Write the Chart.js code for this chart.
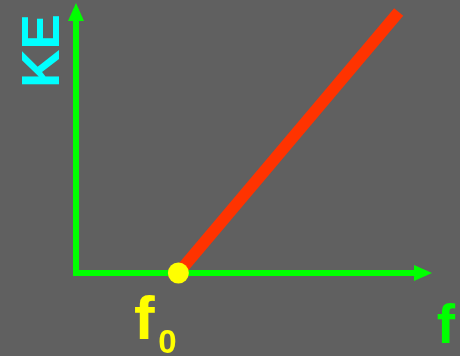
<!DOCTYPE html>
<html>
<head>
<meta charset="utf-8">
<script src="https://cdn.jsdelivr.net/npm/chart.js@4.4.1/dist/chart.umd.min.js"></script>
<style>
  html, body { margin: 0; padding: 0; background: #606060; }
</style>
</head>
<body>
<canvas id="keChart" width="460" height="356"></canvas>
<script>
// KE vs frequency (photoelectric effect), values in arbitrary units
const thresholdFreq = 2.95;            // f0
const keLineFreq = [thresholdFreq, 9.3];
const keLineEnergy = [0, 10];
const freqAxis = [0, 10];
const energyAxis = [0, 10];
const axisTitles = ['f', 'KE'];
const thresholdLabel = ['f', '0'];

const GREEN = '#00ff00';
const RED = '#ff3300';
const YELLOW = '#ffff00';
const CYAN = '#00ffff';
const FONT = '"Liberation Sans", Arial, sans-serif';

// arrow head used as point style at the end of each axis
const arrowHead = document.createElement('canvas');
arrowHead.width = 16;
arrowHead.height = 18;
const actx = arrowHead.getContext('2d');
actx.fillStyle = GREEN;
actx.beginPath();
actx.moveTo(8, 0);
actx.lineTo(16, 18);
actx.lineTo(0, 18);
actx.closePath();
actx.fill();

const toPoints = (xs, ys) => xs.map((v, i) => ({ x: v, y: ys[i] }));

const labelPlugin = {
    id: 'keLabels',
    afterDatasetsDraw(chart) {
        const { ctx, scales } = chart;
        const x0 = scales.x.getPixelForValue(0);
        const y0 = scales.y.getPixelForValue(0);
        const xf0 = scales.x.getPixelForValue(thresholdFreq);
        const xEnd = scales.x.getPixelForValue(freqAxis[1]);
        ctx.save();
        ctx.textAlign = 'center';
        ctx.textBaseline = 'alphabetic';

        // y title, rotated
        ctx.save();
        ctx.fillStyle = CYAN;
        ctx.font = 'bold 53px ' + FONT;
        ctx.translate(x0 - 17, 51);
        ctx.rotate(-Math.PI / 2);
        ctx.fillText(axisTitles[1], 0, 0);
        ctx.restore();

        // x title
        ctx.fillStyle = GREEN;
        ctx.font = 'bold 55px ' + FONT;
        ctx.fillText(axisTitles[0], xEnd + 23, y0 + 70);

        // f0 marker label
        ctx.fillStyle = YELLOW;
        ctx.font = 'bold 62px ' + FONT;
        ctx.fillText(thresholdLabel[0], xf0 - 34, y0 + 66);
        ctx.font = 'bold 33px ' + FONT;
        ctx.fillText(thresholdLabel[1], xf0 - 11, y0 + 80);
        ctx.restore();
    },
};

new Chart(document.getElementById('keChart'), {
    type: 'scatter',
    data: {
        datasets: [
            {
                label: 'f0',
                data: toPoints([thresholdFreq], [0]),
                pointRadius: 10.5,
                pointBackgroundColor: YELLOW,
                pointBorderWidth: 0,
            },
            {
                label: 'KE',
                data: toPoints(keLineFreq, keLineEnergy),
                showLine: true,
                borderColor: RED,
                borderWidth: 12,
                borderCapStyle: 'butt',
                pointRadius: 0,
            },
            {
                label: 'f axis',
                data: toPoints(freqAxis, [0, 0]),
                showLine: true,
                borderColor: GREEN,
                borderWidth: 6,
                borderCapStyle: 'square',
                pointRadius: [0, 5],
                pointStyle: arrowHead,
                pointRotation: 90,
            },
            {
                label: 'KE axis',
                data: toPoints([0, 0], energyAxis),
                showLine: true,
                borderColor: GREEN,
                borderWidth: 6,
                borderCapStyle: 'square',
                pointRadius: [0, 5],
                pointStyle: arrowHead,
                pointRotation: 0,
            },
        ],
    },
    options: {
        responsive: false,
        animation: false,
        events: [],
        clip: false,
        layout: {
            padding: { left: 76, right: 37, top: 12, bottom: 83 },
        },
        elements: {
            line: { tension: 0 },
        },
        scales: {
            x: { type: 'linear', min: 0, max: 10, display: false },
            y: { type: 'linear', min: 0, max: 10, display: false },
        },
        plugins: {
            legend: { display: false },
            tooltip: { enabled: false },
        },
    },
    plugins: [labelPlugin],
});
</script>
</body>
</html>
